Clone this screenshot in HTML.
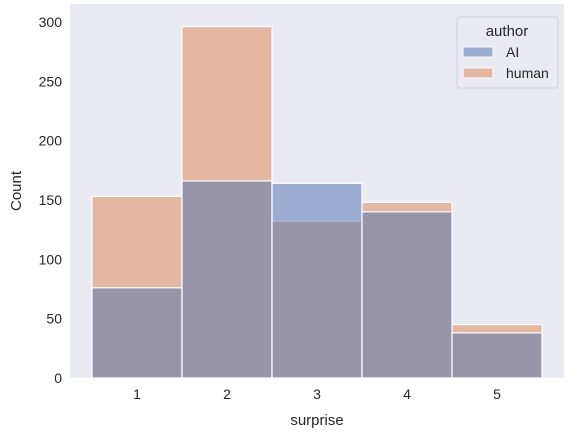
<!DOCTYPE html>
<html><head><meta charset="utf-8"><style>
body{margin:0;background:#fff;font-family:"Liberation Sans",sans-serif}
svg text{font-family:"Liberation Sans",sans-serif;fill:#262626}
</style></head><body>
<svg width="575" height="437">
<rect x="70" y="4" width="494" height="374" fill="#eaeaf2"/>
<g id="bars"></g>
<g id="xt"></g><g id="yt"></g>
<text x="317" y="425" text-anchor="middle" font-size="15">surprise</text>
<text transform="translate(21,191) rotate(-90)" text-anchor="middle" font-size="15">Count</text>
<g>
<rect x="457" y="17" width="101" height="71" rx="3" fill="#eaeaf2" stroke="#d0d0d8"/>
<text x="507" y="36" text-anchor="middle" font-size="15">author</text>
<rect x="463" y="47" width="30" height="10" fill="#4c72b0" fill-opacity="0.5" stroke="#fff"/>
<text x="506" y="57" font-size="14">AI</text>
<rect x="463" y="68" width="30" height="10" fill="#dd8452" fill-opacity="0.5" stroke="#fff"/>
<text x="506" y="78" font-size="14">human</text>
</g>
</svg>
<script>
const categories=[1,2,3,4,5];
const aiCounts=[76,166,164,140,38];
const humanCounts=[153,296,132,148,45];
const yTicks=[0,50,100,150,200,250,300];
const NS="http://www.w3.org/2000/svg";
function xs(v){return 137+(v-1)*90;}
function ys(v){return 378-v*1.187;}
function mk(t,a,p){const e=document.createElementNS(NS,t);for(const k in a)e.setAttribute(k,a[k]);p.appendChild(e);return e;}
const bars=document.getElementById('bars');
[[humanCounts,'#dd8452','human'],[aiCounts,'#4c72b0','ai']].forEach(([arr,c,n])=>{
 arr.forEach((v,i)=>{
  const r=mk('rect',{x:xs(categories[i])-45,y:ys(v),width:90,height:ys(0)-ys(v),fill:c,'fill-opacity':0.5,stroke:'#fff','stroke-width':1.2},bars);
  
  
 });
});
const xt=document.getElementById('xt');
categories.forEach(c=>{
 const t=mk('text',{x:xs(c),y:399,'text-anchor':'middle','font-size':14},xt);t.textContent=c;
 
 
});
const yt=document.getElementById('yt');
yTicks.forEach(v=>{
 const t=mk('text',{x:62,y:ys(v)+5,'text-anchor':'end','font-size':14},yt);t.textContent=v;
 
 
});
</script>
</body></html>
